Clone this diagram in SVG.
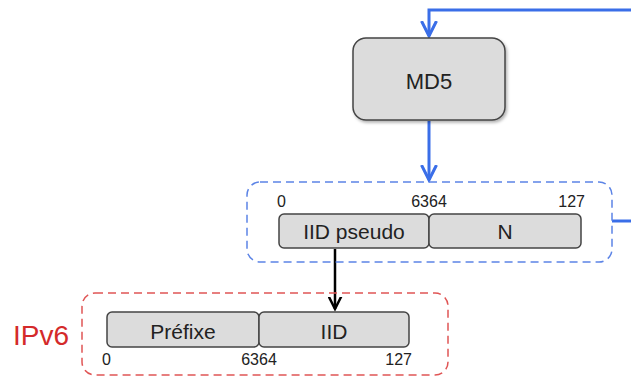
<svg xmlns="http://www.w3.org/2000/svg" width="631" height="379" viewBox="0 0 631 379">
<defs>
<style>
.box{fill:#dcdcdc;stroke:#444;stroke-width:1.5}
.t{font-family:"Liberation Sans",Arial,sans-serif;fill:#222}
.lbl{font-size:21px;text-anchor:middle}
.num{font-size:16px}
.blue{stroke:#3a6ee8;stroke-width:3;fill:none}
</style>
<marker id="ab" markerWidth="6" markerHeight="6" refX="5" refY="3" orient="auto" markerUnits="strokeWidth"><path d="M0,0.5 L5,3 L0,5.5" fill="none" stroke="#3a6ee8" stroke-width="1"/></marker>
<marker id="ak" markerWidth="6" markerHeight="6" refX="5" refY="3" orient="auto" markerUnits="strokeWidth"><path d="M0,0.5 L5,3 L0,5.5" fill="none" stroke="#000" stroke-width="1"/></marker>
<filter id="sh" x="-10%" y="-10%" width="130%" height="130%"><feDropShadow dx="1.5" dy="2" stdDeviation="1.5" flood-color="#000" flood-opacity="0.3"/></filter>
</defs>
<g id="connectors">
<path class="blue" d="M631,10 H429 V36" marker-end="url(#ab)"/>
<path class="blue" d="M429,121 V180" marker-end="url(#ab)"/>
<path class="blue" d="M612,221 H631"/>
<path d="M335,249 V309" stroke="#000" stroke-width="2.5" fill="none" marker-end="url(#ak)"/>
</g>
<g id="md5">
<rect class="box" x="353" y="38" width="152" height="82" rx="13" filter="url(#sh)"/>
<text class="t" x="429" y="89" font-size="22" text-anchor="middle">MD5</text>
</g>
<g id="pseudo">
<rect x="247" y="182" width="365" height="80" rx="13" fill="none" stroke="#5c84e6" stroke-width="1.5" stroke-dasharray="8,5"/>
<rect class="box" x="279" y="214" width="150" height="34" rx="5"/>
<rect class="box" x="429" y="214" width="152" height="34" rx="5"/>
<text class="t lbl" x="354" y="239">IID pseudo</text>
<text class="t lbl" x="505" y="239">N</text>
<text class="t num" x="277" y="207">0</text>
<text class="t num" x="429" y="207" text-anchor="middle">6364</text>
<text class="t num" x="585" y="207" text-anchor="end">127</text>
</g>
<g id="ipv6">
<rect x="82" y="293" width="366" height="82" rx="13" fill="none" stroke="#e05555" stroke-width="1.5" stroke-dasharray="8,5"/>
<rect class="box" x="107" y="312" width="152" height="35" rx="5"/>
<rect class="box" x="259" y="312" width="150" height="35" rx="5"/>
<text class="t lbl" x="183" y="339">Préfixe</text>
<text class="t lbl" x="334" y="339">IID</text>
<text class="t num" x="102" y="365">0</text>
<text class="t num" x="259" y="365" text-anchor="middle">6364</text>
<text class="t num" x="412" y="365" text-anchor="end">127</text>
<text x="13" y="345" font-family="Liberation Sans,Arial,sans-serif" font-size="28" fill="#d42a2a">IPv6</text>
</g>
</svg>
